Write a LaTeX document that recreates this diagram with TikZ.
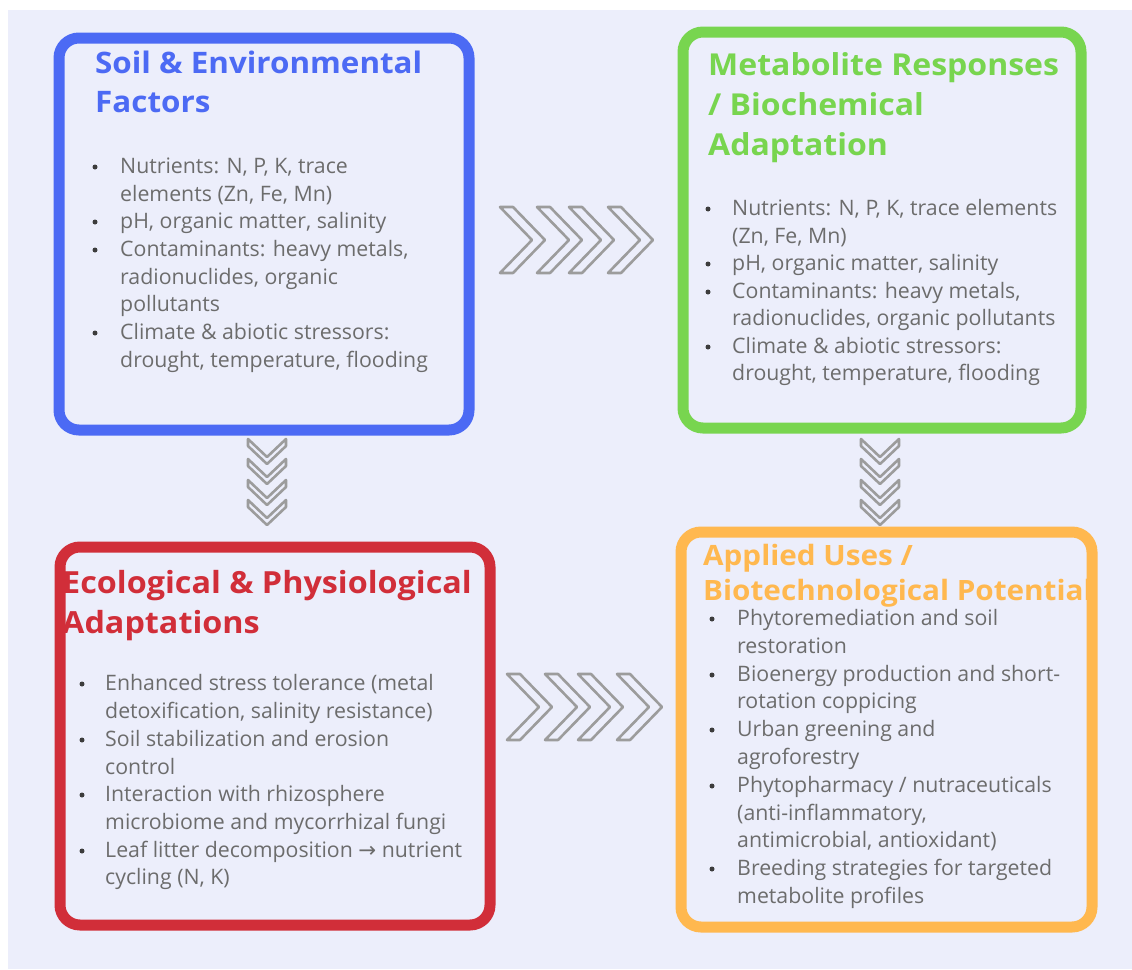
\documentclass[tikz,border=0pt]{standalone}
\usepackage{fontspec}
\setmainfont{Open Sans}
\newfontfamily\ttlfont[FakeStretch=1.06]{Open Sans}
\newfontfamily\symf{DejaVu Sans}
\definecolor{panel}{HTML}{ECEEFB}
\definecolor{cblue}{HTML}{4C6AF4}
\definecolor{cgreen}{HTML}{78D54F}
\definecolor{cred}{HTML}{D12E39}
\definecolor{corange}{HTML}{FFB84F}
\definecolor{ctext}{HTML}{6C6C6C}
\definecolor{cbul}{HTML}{3C3C3C}
\definecolor{cchev}{HTML}{9C9C9C}
\tikzset{
  box/.style={draw=#1, line width=11pt, rounded corners=20pt, fill=panel, inner sep=0pt},
  ttl/.style={anchor=base west, inner sep=0pt, text=#1},
  body/.style={anchor=base west, inner sep=0pt, text=ctext, font=\fontsize{21.3}{25}\selectfont},
  bul/.style={circle, fill=cbul, inner sep=0pt, minimum size=5pt},
  chev/.style={draw=cchev, line width=2.6pt, line join=round}
}
\newcommand\tsz[1]{\ttlfont\bfseries\fontsize{#1}{#1}\selectfont}
\newcommand\chevright[2]{\draw[chev] (#1,#2-33) -- ++(13,0) -- ++(32,33) -- ++(-32,33) -- ++(-13,0) -- ++(32,-33) -- cycle;}
\newcommand\chevdown[2]{\draw[chev] (#1-19,#2) -- ++(0,7) -- ++(19,18) -- ++(19,-18) -- ++(0,-7) -- ++(-19,18) -- cycle;}
\begin{document}
\begin{tikzpicture}[x=1pt,y=-1pt]
\useasboundingbox (0,0) rectangle (1132,969);
\fill[white] (0,0) rectangle (1132,969);
\fill[panel] (8,10) rectangle (1132,969);

% boxes
\node[box=cblue, minimum width=410pt, minimum height=392pt] (soil) at (264,234) {};
\node[box=cgreen, minimum width=398pt, minimum height=396pt] (meta) at (882,230) {};
\node[box=cred, minimum width=430pt, minimum height=378pt] (eco) at (275,736) {};
\node[box=corange, minimum width=411pt, minimum height=395pt] (appl) at (886.5,729.5) {};

% chevrons
\foreach \x in {500,537,569,608} {\chevright{\x}{240}}
\foreach \x in {507,545,578,617} {\chevright{\x}{707}}
\foreach \y in {439,459,480,500} {\chevdown{267}{\y}}
\foreach \y in {439,459,480,500} {\chevdown{880}{\y}}

% titles
\node[ttl=cblue, font=\tsz{29.6}] (t1a) at (95,73) {Soil \& Environmental};
\node[ttl=cblue, font=\tsz{29.6}] (t1b) at (95,112) {Factors};
\node[ttl=cgreen, font=\tsz{30.2}] (t2a) at (708,75) {Metabolite Responses};
\node[ttl=cgreen, font=\tsz{30.2}] (t2b) at (708,115) {/ Biochemical};
\node[ttl=cgreen, font=\tsz{30.2}] (t2c) at (708,155) {Adaptation};
\node[ttl=cred, font=\tsz{30.5}] (t3a) at (62,593) {Ecological \& Physiological};
\node[ttl=cred, font=\tsz{30.5}] (t3b) at (62,633) {Adaptations};
\node[ttl=corange, font=\tsz{28}] (t4a) at (703,565) {Applied Uses /};
\node[ttl=corange, font=\tsz{28}] (t4b) at (703,600) {Biotechnological Potential};

% blue body
\foreach \y/\t [count=\i] in {173/{Nutrients: N, P, K, trace},201/{elements (Zn, Fe, Mn)},228/{pH, organic matter, salinity},256/{Contaminants: heavy metals,},284/{radionuclides, organic},311/{pollutants},339/{Climate \& abiotic stressors:},367/{drought, temperature, flooding}}
  {\node[body] (s\i) at (120,\y) {\t};}
\foreach \y [count=\i] in {173,228,256,339} {\node[bul] (sb\i) at (95,\y-6) {};}

% green body
\foreach \y/\t [count=\i] in {215/{Nutrients: N, P, K, trace elements},243/{(Zn, Fe, Mn)},270/{pH, organic matter, salinity},298/{Contaminants: heavy metals,},325/{radionuclides, organic pollutants},353/{Climate \& abiotic stressors:},380/{drought, temperature, flooding}}
  {\node[body] (m\i) at (732,\y) {\t};}
\foreach \y [count=\i] in {215,270,298,353} {\node[bul] (mb\i) at (708,\y-6) {};}

% red body
\foreach \y/\t [count=\i] in {690/{Enhanced stress tolerance (metal},718/{detoxification, salinity resistance)},746/{Soil stabilization and erosion},774/{control},801/{Interaction with rhizosphere},829/{microbiome and mycorrhizal fungi},857/{Leaf litter decomposition {\symf →} nutrient},884/{cycling (N, K)}}
  {\node[body] (e\i) at (105,\y) {\t};}
\foreach \y [count=\i] in {690,746,801,857} {\node[bul] (eb\i) at (82,\y-6) {};}

% orange body
\foreach \y/\t [count=\i] in {625/{Phytoremediation and soil},653/{restoration},681/{Bioenergy production and short-},708/{rotation coppicing},736/{Urban greening and},764/{agroforestry},792/{Phytopharmacy / nutraceuticals},820/{(anti-inflammatory,},847/{antimicrobial, antioxidant)},875/{Breeding strategies for targeted},903/{metabolite profiles}}
  {\node[body] (a\i) at (737,\y) {\t};}
\foreach \y [count=\i] in {625,681,736,792,875} {\node[bul] (ab\i) at (712,\y-6) {};}
\end{tikzpicture}
\end{document}
